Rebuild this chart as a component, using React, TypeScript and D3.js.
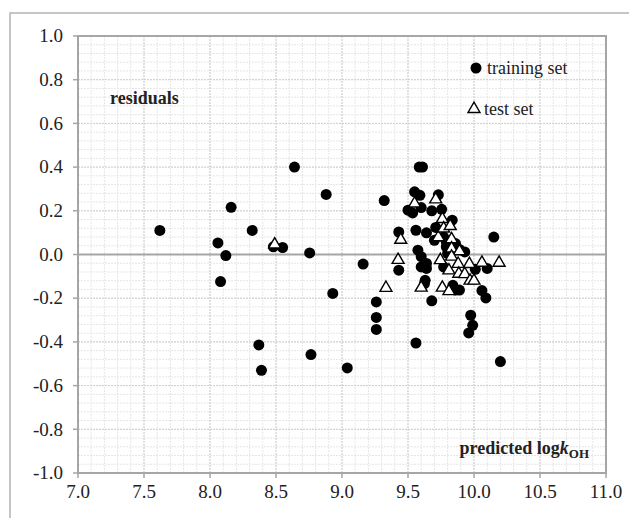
import React from 'react';
import * as d3 from 'd3';

// residuals vs predicted log kOH
const trainX = [
    7.62, 8.06, 8.08, 8.12, 8.16, 8.32, 8.37, 8.39, 8.48, 8.55, 8.64, 8.755, 8.765, 8.88, 8.93,
    9.04, 9.16, 9.26, 9.26, 9.26, 9.32, 9.43, 9.43,
    9.50, 9.535, 9.55, 9.56, 9.56, 9.575, 9.585, 9.61, 9.59, 9.60, 9.60, 9.60, 9.64, 9.64, 9.63,
    9.625, 9.64, 9.68, 9.68, 9.70, 9.71, 9.73, 9.755, 9.77, 9.77, 9.79, 9.79, 9.80, 9.835, 9.84,
    9.86, 9.89, 9.86, 9.89, 9.93, 9.975, 9.99, 9.96, 10.01, 10.10, 10.06, 10.09, 10.15, 10.20,
];
const trainY = [
    0.11, 0.053, -0.124, -0.005, 0.216, 0.11, -0.414, -0.53, 0.035, 0.032, 0.40, 0.007, -0.458, 0.275, -0.178,
    -0.519, -0.044, -0.217, -0.288, -0.343, 0.247, 0.103, -0.072,
    0.203, 0.19, 0.287, 0.111, -0.405, 0.02, 0.40, 0.40, 0.271, 0.215, -0.01, -0.057, -0.041, -0.064, -0.118,
    -0.133, 0.099, 0.20, -0.212, 0.065, 0.124, 0.273, 0.207, 0.08, -0.057, 0.058, 0.035, 0.005, 0.157, -0.141,
    -0.163, -0.163, 0.05, 0.023, 0.012, -0.278, -0.324, -0.359, -0.068, -0.064, -0.165, -0.199, 0.08, -0.49,
];
const testX = [
    8.49, 9.333, 9.445, 9.425, 9.55, 9.60, 9.71, 9.76, 9.73, 9.77, 9.82, 9.83, 9.83, 9.89,
    9.745, 9.83, 9.88, 9.965, 10.06, 10.19, 9.81, 9.885, 9.93, 9.97, 10.0, 9.76, 9.81,
];
const testY = [
    0.046, -0.153, 0.067, -0.025, 0.233, -0.152, 0.252, 0.162, 0.079, 0.119, 0.13, 0.07, 0.027, 0.015,
    -0.026, -0.01, -0.043, -0.044, -0.038, -0.038, -0.073, -0.088, -0.09, -0.12, -0.12, -0.152, -0.168,
];
const xTicks = [7.0, 7.5, 8.0, 8.5, 9.0, 9.5, 10.0, 10.5, 11.0];
const yTicks = [1.0, 0.8, 0.6, 0.4, 0.2, 0.0, -0.2, -0.4, -0.6, -0.8, -1.0];

const W = 629;
const H = 518;
const M = { left: 78, right: 23, top: 36, bottom: 45 };
const FONT = "'Liberation Serif', 'DejaVu Serif', serif";

const fmt = (v: number) => v.toFixed(1);

const App = () => {
    const x = d3.scaleLinear().domain([7, 11]).range([M.left, W - M.right]);
    const y = d3.scaleLinear().domain([-1, 1]).range([H - M.bottom, M.top]);

    const minorX = d3.range(7, 11.0001, 0.1);
    const minorY = d3.range(-1, 1.0001, 0.04);

    const tri = d3.symbol().type(d3.symbolTriangle).size(62)();

    const [x0, x1] = x.range();
    const [y0, y1] = y.range();

    return (
        <svg width={W} height={H}
            style={{ position: 'fixed', left: 0, top: 0, background: '#fff', fontFamily: FONT }}>
            <rect x={10} y={13} width={640} height={540} fill="#fff" stroke="#b3b3b3" strokeWidth={1.5} />

            {/* grid */}
            <g className="grid-minor" stroke="#e6e6e6" strokeWidth={1} strokeDasharray="2,1">
                {minorX.map((v, i) => <line key={'mx' + i} x1={x(v)} x2={x(v)} y1={y1} y2={y0} />)}
                {minorY.map((v, i) => <line key={'my' + i} x1={x0} x2={x1} y1={y(v)} y2={y(v)} />)}
            </g>
            <g className="grid-major" stroke="#cfcfcf" strokeWidth={1} strokeDasharray="2,1">
                {xTicks.map(v => <line key={'gx' + v} x1={x(v)} x2={x(v)} y1={y1} y2={y0} />)}
                {yTicks.map(v => <line key={'gy' + v} x1={x0} x2={x1} y1={y(v)} y2={y(v)} />)}
            </g>

            <line x1={x0} x2={x1} y1={y(0)} y2={y(0)} stroke="#a6a6a6" strokeWidth={2} />
            <rect x={x0} y={y1} width={x1 - x0} height={y0 - y1} fill="none" stroke="#a6a6a6" strokeWidth={2} />

            {/* ticks + labels */}
            <g stroke="#a6a6a6" strokeWidth={1.5}>
                {yTicks.map(v => <line key={'ty' + v} x1={x0 - 5} x2={x0} y1={y(v)} y2={y(v)} />)}
                {xTicks.map(v => <line key={'tx' + v} x1={x(v)} x2={x(v)} y1={y0} y2={y0 + 5} />)}
            </g>
            <g fill="#222" style={{ fontFamily: FONT, fontSize: 19 }}>
                {yTicks.map(v => (
                    <text key={'ly' + v} x={x0 - 15} y={y(v)} dy="0.33em" textAnchor="end">{fmt(v)}</text>
                ))}
                {xTicks.map(v => (
                    <text key={'lx' + v} x={x(v)} y={y0 + 25} textAnchor="middle">{fmt(v)}</text>
                ))}
            </g>

            {/* points */}
            <g fill="#000">
                {trainX.map((v, i) => <circle key={'c' + i} cx={x(v)} cy={y(trainY[i])} r={5.5} />)}
            </g>
            <g fill="#fff" stroke="#000" strokeWidth={1.4}>
                {testX.map((v, i) => (
                    <path key={'t' + i} d={tri} transform={`translate(${x(v)},${y(testY[i])})`} />
                ))}
            </g>

            {/* legend */}
            <g fill="#222" style={{ fontFamily: FONT, fontSize: 18 }}>
                <circle cx={476} cy={68} r={5.5} fill="#000" />
                <text x={487} y={74}>training set</text>
                <path d={tri} transform="translate(474,109)" fill="#fff" stroke="#000" strokeWidth={1.4} />
                <text x={484} y={115}>test set</text>

                <text x={x0 + 32} y={104} fontWeight="bold">residuals</text>
                <text x={x1 - 17} y={454} fontWeight="bold" textAnchor="end">
                    predicted log<tspan fontStyle="italic">k</tspan>
                    <tspan fontSize={13} dy={4}>OH</tspan>
                </text>
            </g>
        </svg>
    );
};

export default App;
